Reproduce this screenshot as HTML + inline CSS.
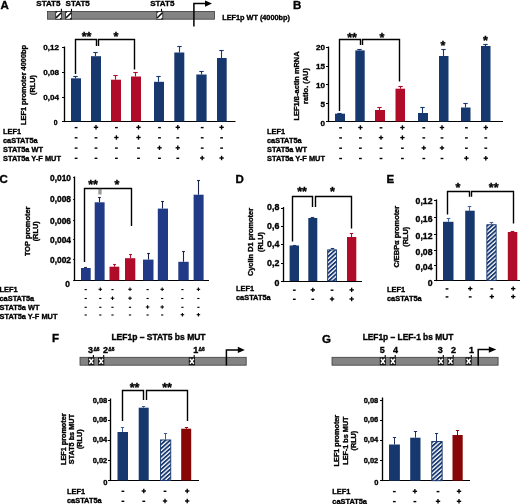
<!DOCTYPE html>
<html><head><meta charset="utf-8"><title>Figure</title>
<style>
html,body{margin:0;padding:0;background:#fff;}
svg{display:block;font-family:"Liberation Sans",sans-serif;font-weight:bold;opacity:0.999;}
text{stroke:#000;stroke-width:0.35px;}
</style></head>
<body>
<svg width="520" height="504" viewBox="0 0 520 504">
<defs>
<filter id="soft" x="0" y="0" width="520" height="504" filterUnits="userSpaceOnUse" color-interpolation-filters="sRGB"><feGaussianBlur stdDeviation="0.35"/></filter>
<pattern id="hb" width="3.1" height="3.1" patternUnits="userSpaceOnUse" patternTransform="rotate(-42)">
<rect width="3.1" height="3.1" fill="#fff"/><rect width="3.1" height="1.8" fill="#17386f"/></pattern>
<pattern id="hk" width="2.4" height="2.4" patternUnits="userSpaceOnUse" patternTransform="rotate(-50)">
<rect width="2.4" height="2.4" fill="#fff"/><rect width="2.4" height="1.15" fill="#111"/></pattern>
</defs>
<rect width="520" height="504" fill="#fff"/>
<g filter="url(#soft)">
<text x="0.5" y="8.7" font-size="11.5" text-anchor="start" fill="#000">A</text>
<text x="36.3" y="6.4" font-size="8" text-anchor="start" fill="#000">STAT5</text>
<text x="65.6" y="6.4" font-size="8" text-anchor="start" fill="#000">STAT5</text>
<text x="150.2" y="6.4" font-size="8" text-anchor="start" fill="#000">STAT5</text>
<rect x="47.5" y="11.4" width="167" height="7.8" fill="#838383" stroke="#3c3c3c" stroke-width="0.8"/>
<rect x="55.7" y="11.4" width="5.8" height="7.8" fill="#fff" stroke="#222" stroke-width="0.8"/>
<line x1="56.0" y1="17.9" x2="61.2" y2="12.7" stroke="#111" stroke-width="1.5"/>
<line x1="56.0" y1="12.3" x2="56.9" y2="11.7" stroke="#111" stroke-width="1.4"/>
<line x1="60.3" y1="18.9" x2="61.2" y2="18.3" stroke="#111" stroke-width="1.4"/>
<rect x="65.6" y="11.4" width="6.0" height="7.8" fill="#fff" stroke="#222" stroke-width="0.8"/>
<line x1="65.9" y1="18.0" x2="71.3" y2="12.6" stroke="#111" stroke-width="1.5"/>
<line x1="65.9" y1="12.4" x2="66.9" y2="11.7" stroke="#111" stroke-width="1.4"/>
<line x1="70.3" y1="18.9" x2="71.3" y2="18.2" stroke="#111" stroke-width="1.4"/>
<rect x="156.8" y="11.4" width="6.0" height="7.8" fill="#fff" stroke="#222" stroke-width="0.8"/>
<line x1="157.1" y1="18.0" x2="162.5" y2="12.6" stroke="#111" stroke-width="1.5"/>
<line x1="157.1" y1="12.4" x2="158.1" y2="11.7" stroke="#111" stroke-width="1.4"/>
<line x1="161.5" y1="18.9" x2="162.5" y2="18.2" stroke="#111" stroke-width="1.4"/>
<line x1="61.4" y1="8.8" x2="61.4" y2="11.4" stroke="#000" stroke-width="1.1"/>
<line x1="71.5" y1="8.8" x2="71.5" y2="11.4" stroke="#000" stroke-width="1.1"/>
<line x1="161.5" y1="8.8" x2="161.5" y2="11.4" stroke="#000" stroke-width="1.1"/>
<path d="M193.9 26.5 V3.6 H205.5" stroke="#000" stroke-width="1.5" fill="none" stroke-linejoin="miter"/>
<path d="M205.0 0.5 L212.0 3.6 L205.0 6.7 Z" stroke="#000" stroke-width="0" fill="#000" stroke-linejoin="miter"/>
<text x="222.2" y="19.7" font-size="7.3" text-anchor="start" fill="#000">LEF1p WT (4000bp)</text>
<line x1="64.5" y1="46.5" x2="64.5" y2="122.1" stroke="#000" stroke-width="1.35"/>
<line x1="63.9" y1="121.5" x2="235.5" y2="121.5" stroke="#000" stroke-width="1.2"/>
<line x1="62.0" y1="47.5" x2="64.5" y2="47.5" stroke="#000" stroke-width="1"/>
<text x="59" y="50.42" font-size="8.1" text-anchor="end" fill="#000">0,12</text>
<line x1="62.0" y1="72.5" x2="64.5" y2="72.5" stroke="#000" stroke-width="1"/>
<text x="59" y="75.22" font-size="8.1" text-anchor="end" fill="#000">0,08</text>
<line x1="62.0" y1="97.5" x2="64.5" y2="97.5" stroke="#000" stroke-width="1"/>
<text x="59" y="100.12" font-size="8.1" text-anchor="end" fill="#000">0,04</text>
<line x1="62.0" y1="121.5" x2="64.5" y2="121.5" stroke="#000" stroke-width="1"/>
<text x="57.6" y="125.05" font-size="6.8" text-anchor="end" fill="#000">0</text>
<text x="25.96" y="85" font-size="7.4" text-anchor="middle" fill="#000" transform="rotate(-90 25.96 85)">LEF1 promoter 4000bp</text>
<text x="34.56" y="85" font-size="7.4" text-anchor="middle" fill="#000" transform="rotate(-90 34.56 85)">(RLU)</text>
<line x1="75.5" y1="76.5" x2="75.5" y2="78.3" stroke="#17386f" stroke-width="1.1"/>
<line x1="73.3" y1="76.5" x2="77.7" y2="76.5" stroke="#17386f" stroke-width="1.1"/>
<rect x="71" y="78.3" width="10" height="43.2" fill="#17386f"/>
<line x1="95.5" y1="52.5" x2="95.5" y2="56.2" stroke="#17386f" stroke-width="1.1"/>
<line x1="93.3" y1="52.5" x2="97.7" y2="52.5" stroke="#17386f" stroke-width="1.1"/>
<rect x="91" y="56.2" width="10" height="65.3" fill="#17386f"/>
<line x1="115.5" y1="75.5" x2="115.5" y2="79.7" stroke="#b00b29" stroke-width="1.1"/>
<line x1="113.3" y1="75.5" x2="117.7" y2="75.5" stroke="#b00b29" stroke-width="1.1"/>
<rect x="111" y="79.7" width="10" height="41.8" fill="#b00b29"/>
<line x1="135.5" y1="72.5" x2="135.5" y2="76.5" stroke="#b00b29" stroke-width="1.1"/>
<line x1="133.3" y1="72.5" x2="137.7" y2="72.5" stroke="#b00b29" stroke-width="1.1"/>
<rect x="131" y="76.5" width="10" height="45.0" fill="#b00b29"/>
<line x1="158.5" y1="76.5" x2="158.5" y2="81.8" stroke="#17386f" stroke-width="1.1"/>
<line x1="156.3" y1="76.5" x2="160.7" y2="76.5" stroke="#17386f" stroke-width="1.1"/>
<rect x="154" y="81.8" width="10" height="39.7" fill="#17386f"/>
<line x1="179.5" y1="46.5" x2="179.5" y2="52.5" stroke="#17386f" stroke-width="1.1"/>
<line x1="177.3" y1="46.5" x2="181.7" y2="46.5" stroke="#17386f" stroke-width="1.1"/>
<rect x="174.3" y="52.5" width="10.0" height="69.0" fill="#17386f"/>
<line x1="201.5" y1="71.5" x2="201.5" y2="74.5" stroke="#17386f" stroke-width="1.1"/>
<line x1="199.3" y1="71.5" x2="203.7" y2="71.5" stroke="#17386f" stroke-width="1.1"/>
<rect x="196.3" y="74.5" width="10.3" height="47.0" fill="#17386f"/>
<line x1="221.5" y1="50.5" x2="221.5" y2="58" stroke="#17386f" stroke-width="1.1"/>
<line x1="219.3" y1="50.5" x2="223.7" y2="50.5" stroke="#17386f" stroke-width="1.1"/>
<rect x="217" y="58" width="9.7" height="63.5" fill="#17386f"/>
<path d="M75.5 74 L75.5 39.5 L96.5 39.5 L96.5 46" stroke="#000" stroke-width="1.4" fill="none" stroke-linejoin="miter"/>
<path d="M98.5 46 L98.5 39.5 L134.5 39.5 L134.5 69.5" stroke="#000" stroke-width="1.4" fill="none" stroke-linejoin="miter"/>
<text x="86.5" y="40.81" font-size="12.5" text-anchor="middle" fill="#000">**</text>
<text x="116" y="40.81" font-size="12.5" text-anchor="middle" fill="#000">*</text>
<text x="3" y="133.66" font-size="7.4" text-anchor="start" fill="#000">LEF1</text>
<text x="3" y="142.66" font-size="7.4" text-anchor="start" fill="#000">caSTAT5a</text>
<text x="3" y="151.66" font-size="7.4" text-anchor="start" fill="#000">STAT5a WT</text>
<text x="3" y="160.66" font-size="7.4" text-anchor="start" fill="#000">STAT5a Y-F MUT</text>
<line x1="74.7" y1="127.6" x2="77.5" y2="127.6" stroke="#000" stroke-width="1.4"/>
<line x1="93.8" y1="127.3" x2="98.2" y2="127.3" stroke="#000" stroke-width="1.35"/>
<line x1="96" y1="125.1" x2="96" y2="129.5" stroke="#000" stroke-width="1.35"/>
<line x1="115.0" y1="127.6" x2="117.8" y2="127.6" stroke="#000" stroke-width="1.4"/>
<line x1="136.3" y1="127.3" x2="140.7" y2="127.3" stroke="#000" stroke-width="1.35"/>
<line x1="138.5" y1="125.1" x2="138.5" y2="129.5" stroke="#000" stroke-width="1.35"/>
<line x1="158.1" y1="127.6" x2="160.9" y2="127.6" stroke="#000" stroke-width="1.4"/>
<line x1="175.6" y1="127.3" x2="180.0" y2="127.3" stroke="#000" stroke-width="1.35"/>
<line x1="177.8" y1="125.1" x2="177.8" y2="129.5" stroke="#000" stroke-width="1.35"/>
<line x1="200.8" y1="127.6" x2="203.6" y2="127.6" stroke="#000" stroke-width="1.4"/>
<line x1="219.4" y1="127.3" x2="223.8" y2="127.3" stroke="#000" stroke-width="1.35"/>
<line x1="221.6" y1="125.1" x2="221.6" y2="129.5" stroke="#000" stroke-width="1.35"/>
<line x1="74.7" y1="137.8" x2="77.5" y2="137.8" stroke="#000" stroke-width="1.4"/>
<line x1="94.6" y1="137.8" x2="97.4" y2="137.8" stroke="#000" stroke-width="1.4"/>
<line x1="114.2" y1="137.5" x2="118.6" y2="137.5" stroke="#000" stroke-width="1.35"/>
<line x1="116.4" y1="135.3" x2="116.4" y2="139.7" stroke="#000" stroke-width="1.35"/>
<line x1="136.3" y1="137.5" x2="140.7" y2="137.5" stroke="#000" stroke-width="1.35"/>
<line x1="138.5" y1="135.3" x2="138.5" y2="139.7" stroke="#000" stroke-width="1.35"/>
<line x1="158.1" y1="137.8" x2="160.9" y2="137.8" stroke="#000" stroke-width="1.4"/>
<line x1="176.4" y1="137.8" x2="179.2" y2="137.8" stroke="#000" stroke-width="1.4"/>
<line x1="200.8" y1="137.8" x2="203.6" y2="137.8" stroke="#000" stroke-width="1.4"/>
<line x1="220.2" y1="137.8" x2="223.0" y2="137.8" stroke="#000" stroke-width="1.4"/>
<line x1="74.7" y1="148.1" x2="77.5" y2="148.1" stroke="#000" stroke-width="1.4"/>
<line x1="94.6" y1="148.1" x2="97.4" y2="148.1" stroke="#000" stroke-width="1.4"/>
<line x1="115.0" y1="148.1" x2="117.8" y2="148.1" stroke="#000" stroke-width="1.4"/>
<line x1="137.1" y1="148.1" x2="139.9" y2="148.1" stroke="#000" stroke-width="1.4"/>
<line x1="157.3" y1="147.8" x2="161.7" y2="147.8" stroke="#000" stroke-width="1.35"/>
<line x1="159.5" y1="145.6" x2="159.5" y2="150.0" stroke="#000" stroke-width="1.35"/>
<line x1="175.6" y1="147.8" x2="180.0" y2="147.8" stroke="#000" stroke-width="1.35"/>
<line x1="177.8" y1="145.6" x2="177.8" y2="150.0" stroke="#000" stroke-width="1.35"/>
<line x1="200.8" y1="148.1" x2="203.6" y2="148.1" stroke="#000" stroke-width="1.4"/>
<line x1="220.2" y1="148.1" x2="223.0" y2="148.1" stroke="#000" stroke-width="1.4"/>
<line x1="74.7" y1="158.3" x2="77.5" y2="158.3" stroke="#000" stroke-width="1.4"/>
<line x1="94.6" y1="158.3" x2="97.4" y2="158.3" stroke="#000" stroke-width="1.4"/>
<line x1="115.0" y1="158.3" x2="117.8" y2="158.3" stroke="#000" stroke-width="1.4"/>
<line x1="137.1" y1="158.3" x2="139.9" y2="158.3" stroke="#000" stroke-width="1.4"/>
<line x1="158.1" y1="158.3" x2="160.9" y2="158.3" stroke="#000" stroke-width="1.4"/>
<line x1="176.4" y1="158.3" x2="179.2" y2="158.3" stroke="#000" stroke-width="1.4"/>
<line x1="200.0" y1="158" x2="204.4" y2="158" stroke="#000" stroke-width="1.35"/>
<line x1="202.2" y1="155.8" x2="202.2" y2="160.2" stroke="#000" stroke-width="1.35"/>
<line x1="219.4" y1="158" x2="223.8" y2="158" stroke="#000" stroke-width="1.35"/>
<line x1="221.6" y1="155.8" x2="221.6" y2="160.2" stroke="#000" stroke-width="1.35"/>
<text x="293" y="8.5" font-size="11.5" text-anchor="start" fill="#000">B</text>
<line x1="328.5" y1="46.5" x2="328.5" y2="122.1" stroke="#000" stroke-width="1.35"/>
<line x1="327.9" y1="121.5" x2="503" y2="121.5" stroke="#000" stroke-width="1.2"/>
<line x1="326.0" y1="47.5" x2="328.5" y2="47.5" stroke="#000" stroke-width="1"/>
<text x="325" y="50.42" font-size="8.1" text-anchor="end" fill="#000">20</text>
<line x1="326.0" y1="66.5" x2="328.5" y2="66.5" stroke="#000" stroke-width="1"/>
<text x="325" y="69.02" font-size="8.1" text-anchor="end" fill="#000">15</text>
<line x1="326.0" y1="84.5" x2="328.5" y2="84.5" stroke="#000" stroke-width="1"/>
<text x="325" y="87.62" font-size="8.1" text-anchor="end" fill="#000">10</text>
<line x1="326.0" y1="103.5" x2="328.5" y2="103.5" stroke="#000" stroke-width="1"/>
<text x="325" y="106.52" font-size="8.1" text-anchor="end" fill="#000">5</text>
<line x1="326.0" y1="121.5" x2="328.5" y2="121.5" stroke="#000" stroke-width="1"/>
<text x="325" y="125.52" font-size="8.1" text-anchor="end" fill="#000">0</text>
<text x="298.66" y="86" font-size="7.4" text-anchor="middle" fill="#000" transform="rotate(-90 298.66 86)">LEF1/ß-actin mRNA</text>
<text x="307.66" y="86" font-size="7.4" text-anchor="middle" fill="#000" transform="rotate(-90 307.66 86)">ratio. (AU)</text>
<line x1="339.5" y1="113.5" x2="339.5" y2="113.7" stroke="#17386f" stroke-width="1.1"/>
<line x1="337.3" y1="113.5" x2="341.7" y2="113.5" stroke="#17386f" stroke-width="1.1"/>
<rect x="335" y="113.7" width="10" height="7.8" fill="#17386f"/>
<line x1="359.5" y1="49.5" x2="359.5" y2="50.4" stroke="#17386f" stroke-width="1.1"/>
<line x1="357.3" y1="49.5" x2="361.7" y2="49.5" stroke="#17386f" stroke-width="1.1"/>
<rect x="355.3" y="50.4" width="9.4" height="71.1" fill="#17386f"/>
<line x1="379.5" y1="107.5" x2="379.5" y2="110" stroke="#b00b29" stroke-width="1.1"/>
<line x1="377.3" y1="107.5" x2="381.7" y2="107.5" stroke="#b00b29" stroke-width="1.1"/>
<rect x="375" y="110" width="10" height="11.5" fill="#b00b29"/>
<line x1="400.5" y1="86.5" x2="400.5" y2="88.7" stroke="#b00b29" stroke-width="1.1"/>
<line x1="398.3" y1="86.5" x2="402.7" y2="86.5" stroke="#b00b29" stroke-width="1.1"/>
<rect x="395.5" y="88.7" width="9.5" height="32.8" fill="#b00b29"/>
<line x1="422.5" y1="107.5" x2="422.5" y2="113" stroke="#17386f" stroke-width="1.1"/>
<line x1="420.3" y1="107.5" x2="424.7" y2="107.5" stroke="#17386f" stroke-width="1.1"/>
<rect x="418" y="113" width="10" height="8.5" fill="#17386f"/>
<line x1="443.5" y1="49.5" x2="443.5" y2="56" stroke="#17386f" stroke-width="1.1"/>
<line x1="441.3" y1="49.5" x2="445.7" y2="49.5" stroke="#17386f" stroke-width="1.1"/>
<rect x="439" y="56" width="9.5" height="65.5" fill="#17386f"/>
<line x1="465.5" y1="103.5" x2="465.5" y2="107.5" stroke="#17386f" stroke-width="1.1"/>
<line x1="463.3" y1="103.5" x2="467.7" y2="103.5" stroke="#17386f" stroke-width="1.1"/>
<rect x="461" y="107.5" width="9.5" height="14.0" fill="#17386f"/>
<line x1="485.5" y1="44.5" x2="485.5" y2="46" stroke="#17386f" stroke-width="1.1"/>
<line x1="483.3" y1="44.5" x2="487.7" y2="44.5" stroke="#17386f" stroke-width="1.1"/>
<rect x="481" y="46" width="9.5" height="75.5" fill="#17386f"/>
<path d="M339.5 111 L339.5 39.5 L360.5 39.5 L360.5 45" stroke="#000" stroke-width="1.4" fill="none" stroke-linejoin="miter"/>
<path d="M362.5 45 L362.5 39.5 L399.5 39.5 L399.5 81.5" stroke="#000" stroke-width="1.4" fill="none" stroke-linejoin="miter"/>
<text x="352" y="41.81" font-size="12.5" text-anchor="middle" fill="#000">**</text>
<text x="382" y="41.81" font-size="12.5" text-anchor="middle" fill="#000">*</text>
<text x="443" y="50.31" font-size="12.5" text-anchor="middle" fill="#000">*</text>
<text x="485.5" y="44.81" font-size="12.5" text-anchor="middle" fill="#000">*</text>
<text x="267" y="133.66" font-size="7.4" text-anchor="start" fill="#000">LEF1</text>
<text x="267" y="142.66" font-size="7.4" text-anchor="start" fill="#000">caSTAT5a</text>
<text x="267" y="151.66" font-size="7.4" text-anchor="start" fill="#000">STAT5a WT</text>
<text x="267" y="160.66" font-size="7.4" text-anchor="start" fill="#000">STAT5a Y-F MUT</text>
<line x1="339.2" y1="127.8" x2="342.0" y2="127.8" stroke="#000" stroke-width="1.4"/>
<line x1="358.2" y1="127.5" x2="362.6" y2="127.5" stroke="#000" stroke-width="1.35"/>
<line x1="360.4" y1="125.3" x2="360.4" y2="129.7" stroke="#000" stroke-width="1.35"/>
<line x1="379.6" y1="127.8" x2="382.4" y2="127.8" stroke="#000" stroke-width="1.4"/>
<line x1="400.2" y1="127.5" x2="404.6" y2="127.5" stroke="#000" stroke-width="1.35"/>
<line x1="402.4" y1="125.3" x2="402.4" y2="129.7" stroke="#000" stroke-width="1.35"/>
<line x1="422.4" y1="127.8" x2="425.2" y2="127.8" stroke="#000" stroke-width="1.4"/>
<line x1="439.8" y1="127.5" x2="444.2" y2="127.5" stroke="#000" stroke-width="1.35"/>
<line x1="442" y1="125.3" x2="442" y2="129.7" stroke="#000" stroke-width="1.35"/>
<line x1="465.0" y1="127.8" x2="467.8" y2="127.8" stroke="#000" stroke-width="1.4"/>
<line x1="483.6" y1="127.5" x2="488.0" y2="127.5" stroke="#000" stroke-width="1.35"/>
<line x1="485.8" y1="125.3" x2="485.8" y2="129.7" stroke="#000" stroke-width="1.35"/>
<line x1="339.2" y1="137.9" x2="342.0" y2="137.9" stroke="#000" stroke-width="1.4"/>
<line x1="359.0" y1="137.9" x2="361.8" y2="137.9" stroke="#000" stroke-width="1.4"/>
<line x1="378.8" y1="137.6" x2="383.2" y2="137.6" stroke="#000" stroke-width="1.35"/>
<line x1="381" y1="135.4" x2="381" y2="139.8" stroke="#000" stroke-width="1.35"/>
<line x1="400.2" y1="137.6" x2="404.6" y2="137.6" stroke="#000" stroke-width="1.35"/>
<line x1="402.4" y1="135.4" x2="402.4" y2="139.8" stroke="#000" stroke-width="1.35"/>
<line x1="422.4" y1="137.9" x2="425.2" y2="137.9" stroke="#000" stroke-width="1.4"/>
<line x1="440.6" y1="137.9" x2="443.4" y2="137.9" stroke="#000" stroke-width="1.4"/>
<line x1="465.0" y1="137.9" x2="467.8" y2="137.9" stroke="#000" stroke-width="1.4"/>
<line x1="484.4" y1="137.9" x2="487.2" y2="137.9" stroke="#000" stroke-width="1.4"/>
<line x1="339.2" y1="148.2" x2="342.0" y2="148.2" stroke="#000" stroke-width="1.4"/>
<line x1="359.0" y1="148.2" x2="361.8" y2="148.2" stroke="#000" stroke-width="1.4"/>
<line x1="379.6" y1="148.2" x2="382.4" y2="148.2" stroke="#000" stroke-width="1.4"/>
<line x1="401.0" y1="148.2" x2="403.8" y2="148.2" stroke="#000" stroke-width="1.4"/>
<line x1="421.6" y1="147.9" x2="426.0" y2="147.9" stroke="#000" stroke-width="1.35"/>
<line x1="423.8" y1="145.7" x2="423.8" y2="150.1" stroke="#000" stroke-width="1.35"/>
<line x1="439.8" y1="147.9" x2="444.2" y2="147.9" stroke="#000" stroke-width="1.35"/>
<line x1="442" y1="145.7" x2="442" y2="150.1" stroke="#000" stroke-width="1.35"/>
<line x1="465.0" y1="148.2" x2="467.8" y2="148.2" stroke="#000" stroke-width="1.4"/>
<line x1="484.4" y1="148.2" x2="487.2" y2="148.2" stroke="#000" stroke-width="1.4"/>
<line x1="339.2" y1="158.5" x2="342.0" y2="158.5" stroke="#000" stroke-width="1.4"/>
<line x1="359.0" y1="158.5" x2="361.8" y2="158.5" stroke="#000" stroke-width="1.4"/>
<line x1="379.6" y1="158.5" x2="382.4" y2="158.5" stroke="#000" stroke-width="1.4"/>
<line x1="401.0" y1="158.5" x2="403.8" y2="158.5" stroke="#000" stroke-width="1.4"/>
<line x1="422.4" y1="158.5" x2="425.2" y2="158.5" stroke="#000" stroke-width="1.4"/>
<line x1="440.6" y1="158.5" x2="443.4" y2="158.5" stroke="#000" stroke-width="1.4"/>
<line x1="464.2" y1="158.2" x2="468.6" y2="158.2" stroke="#000" stroke-width="1.35"/>
<line x1="466.4" y1="156.0" x2="466.4" y2="160.4" stroke="#000" stroke-width="1.35"/>
<line x1="483.6" y1="158.2" x2="488.0" y2="158.2" stroke="#000" stroke-width="1.35"/>
<line x1="485.8" y1="156.0" x2="485.8" y2="160.4" stroke="#000" stroke-width="1.35"/>
<text x="-0.5" y="182.7" font-size="11.5" text-anchor="start" fill="#000">C</text>
<line x1="74.5" y1="176.5" x2="74.5" y2="281.1" stroke="#000" stroke-width="1.35"/>
<line x1="73.9" y1="280.5" x2="209" y2="280.5" stroke="#000" stroke-width="1.2"/>
<line x1="73.2" y1="177.5" x2="74.5" y2="177.5" stroke="#000" stroke-width="1"/>
<text x="71" y="180.72" font-size="8.4" text-anchor="end" fill="#000">0,010</text>
<line x1="73.2" y1="199.5" x2="74.5" y2="199.5" stroke="#000" stroke-width="1"/>
<text x="71" y="202.22" font-size="8.4" text-anchor="end" fill="#000">0,008</text>
<line x1="73.2" y1="220.5" x2="74.5" y2="220.5" stroke="#000" stroke-width="1"/>
<text x="71" y="223.72" font-size="8.4" text-anchor="end" fill="#000">0,006</text>
<line x1="73.2" y1="239.5" x2="74.5" y2="239.5" stroke="#000" stroke-width="1"/>
<text x="71" y="242.92" font-size="8.4" text-anchor="end" fill="#000">0,004</text>
<line x1="73.2" y1="259.5" x2="74.5" y2="259.5" stroke="#000" stroke-width="1"/>
<text x="71" y="262.82" font-size="8.4" text-anchor="end" fill="#000">0,002</text>
<line x1="73.2" y1="280.5" x2="74.5" y2="280.5" stroke="#000" stroke-width="1"/>
<text x="69.8" y="287.02" font-size="8.4" text-anchor="end" fill="#000">0</text>
<text x="29.96" y="231.3" font-size="7.4" text-anchor="middle" fill="#000" transform="rotate(-90 29.96 231.3)">TOP promoter</text>
<text x="37.96" y="231.3" font-size="7.4" text-anchor="middle" fill="#000" transform="rotate(-90 37.96 231.3)">(RLU)</text>
<line x1="85.5" y1="267.5" x2="85.5" y2="268" stroke="#1a2246" stroke-width="1.1"/>
<line x1="84.1" y1="267.5" x2="86.9" y2="267.5" stroke="#1a2246" stroke-width="1.1"/>
<rect x="81" y="268" width="9.7" height="12.4" fill="#203a87"/>
<line x1="99.5" y1="197.5" x2="99.5" y2="202.3" stroke="#1a2246" stroke-width="1.1"/>
<line x1="98.1" y1="197.5" x2="100.9" y2="197.5" stroke="#1a2246" stroke-width="1.1"/>
<rect x="94.7" y="202.3" width="9.9" height="78.1" fill="#203a87"/>
<line x1="114.5" y1="264.5" x2="114.5" y2="266.7" stroke="#b00b29" stroke-width="1.1"/>
<line x1="113.1" y1="264.5" x2="115.9" y2="264.5" stroke="#b00b29" stroke-width="1.1"/>
<rect x="109.5" y="266.7" width="9.8" height="13.7" fill="#b00b29"/>
<line x1="130.5" y1="254.5" x2="130.5" y2="258.2" stroke="#b00b29" stroke-width="1.1"/>
<line x1="129.1" y1="254.5" x2="131.9" y2="254.5" stroke="#b00b29" stroke-width="1.1"/>
<rect x="125" y="258.2" width="10.3" height="22.2" fill="#b00b29"/>
<line x1="148.5" y1="253.5" x2="148.5" y2="259.6" stroke="#1a2246" stroke-width="1.1"/>
<line x1="147.1" y1="253.5" x2="149.9" y2="253.5" stroke="#1a2246" stroke-width="1.1"/>
<rect x="143" y="259.6" width="10.5" height="20.8" fill="#203a87"/>
<line x1="162.5" y1="201.5" x2="162.5" y2="208.6" stroke="#1a2246" stroke-width="1.1"/>
<line x1="161.1" y1="201.5" x2="163.9" y2="201.5" stroke="#1a2246" stroke-width="1.1"/>
<rect x="157.8" y="208.6" width="10.2" height="71.8" fill="#203a87"/>
<line x1="183.5" y1="251.5" x2="183.5" y2="261.8" stroke="#1a2246" stroke-width="1.1"/>
<line x1="182.1" y1="251.5" x2="184.9" y2="251.5" stroke="#1a2246" stroke-width="1.1"/>
<rect x="178.3" y="261.8" width="10.4" height="18.6" fill="#203a87"/>
<line x1="198.5" y1="180.5" x2="198.5" y2="194.7" stroke="#1a2246" stroke-width="1.1"/>
<line x1="197.1" y1="180.5" x2="199.9" y2="180.5" stroke="#1a2246" stroke-width="1.1"/>
<rect x="193.6" y="194.7" width="10.0" height="85.7" fill="#203a87"/>
<path d="M84.5 262 L84.5 188.5 L131.5 188.5 L131.5 226" stroke="#000" stroke-width="1.4" fill="none" stroke-linejoin="miter"/>
<line x1="99.1" y1="188.5" x2="99.1" y2="194.5" stroke="#444" stroke-width="0.9"/>
<line x1="100.9" y1="188.5" x2="100.9" y2="194.5" stroke="#444" stroke-width="0.9"/>
<text x="93" y="188.81" font-size="12.5" text-anchor="middle" fill="#000">**</text>
<text x="117" y="188.81" font-size="12.5" text-anchor="middle" fill="#000">*</text>
<text x="-0.5" y="292.36" font-size="7.4" text-anchor="start" fill="#000">LEF1</text>
<text x="-0.5" y="301.36" font-size="7.4" text-anchor="start" fill="#000">caSTAT5a</text>
<text x="-0.5" y="310.46" font-size="7.4" text-anchor="start" fill="#000">STAT5a WT</text>
<text x="-0.5" y="319.06" font-size="7.4" text-anchor="start" fill="#000">STAT5a Y-F MUT</text>
<line x1="84.58" y1="289.6" x2="86.82" y2="289.6" stroke="#000" stroke-width="1.12"/>
<line x1="98.54" y1="289.3" x2="102.06" y2="289.3" stroke="#000" stroke-width="1.08"/>
<line x1="100.3" y1="287.54" x2="100.3" y2="291.06" stroke="#000" stroke-width="1.08"/>
<line x1="111.38" y1="289.6" x2="113.62" y2="289.6" stroke="#000" stroke-width="1.12"/>
<line x1="128.24" y1="289.3" x2="131.76" y2="289.3" stroke="#000" stroke-width="1.08"/>
<line x1="130" y1="287.54" x2="130" y2="291.06" stroke="#000" stroke-width="1.08"/>
<line x1="146.48" y1="289.6" x2="148.72" y2="289.6" stroke="#000" stroke-width="1.12"/>
<line x1="160.44" y1="289.3" x2="163.96" y2="289.3" stroke="#000" stroke-width="1.08"/>
<line x1="162.2" y1="287.54" x2="162.2" y2="291.06" stroke="#000" stroke-width="1.08"/>
<line x1="181.28" y1="289.6" x2="183.52" y2="289.6" stroke="#000" stroke-width="1.12"/>
<line x1="196.64" y1="289.3" x2="200.16" y2="289.3" stroke="#000" stroke-width="1.08"/>
<line x1="198.4" y1="287.54" x2="198.4" y2="291.06" stroke="#000" stroke-width="1.08"/>
<line x1="84.58" y1="298.5" x2="86.82" y2="298.5" stroke="#000" stroke-width="1.12"/>
<line x1="99.18" y1="298.5" x2="101.42" y2="298.5" stroke="#000" stroke-width="1.12"/>
<line x1="110.74" y1="298.2" x2="114.26" y2="298.2" stroke="#000" stroke-width="1.08"/>
<line x1="112.5" y1="296.44" x2="112.5" y2="299.96" stroke="#000" stroke-width="1.08"/>
<line x1="128.24" y1="298.2" x2="131.76" y2="298.2" stroke="#000" stroke-width="1.08"/>
<line x1="130" y1="296.44" x2="130" y2="299.96" stroke="#000" stroke-width="1.08"/>
<line x1="146.48" y1="298.5" x2="148.72" y2="298.5" stroke="#000" stroke-width="1.12"/>
<line x1="161.08" y1="298.5" x2="163.32" y2="298.5" stroke="#000" stroke-width="1.12"/>
<line x1="181.28" y1="298.5" x2="183.52" y2="298.5" stroke="#000" stroke-width="1.12"/>
<line x1="197.28" y1="298.5" x2="199.52" y2="298.5" stroke="#000" stroke-width="1.12"/>
<line x1="84.58" y1="307.3" x2="86.82" y2="307.3" stroke="#000" stroke-width="1.12"/>
<line x1="99.18" y1="307.3" x2="101.42" y2="307.3" stroke="#000" stroke-width="1.12"/>
<line x1="111.38" y1="307.3" x2="113.62" y2="307.3" stroke="#000" stroke-width="1.12"/>
<line x1="128.88" y1="307.3" x2="131.12" y2="307.3" stroke="#000" stroke-width="1.12"/>
<line x1="145.84" y1="307" x2="149.36" y2="307" stroke="#000" stroke-width="1.08"/>
<line x1="147.6" y1="305.24" x2="147.6" y2="308.76" stroke="#000" stroke-width="1.08"/>
<line x1="160.44" y1="307" x2="163.96" y2="307" stroke="#000" stroke-width="1.08"/>
<line x1="162.2" y1="305.24" x2="162.2" y2="308.76" stroke="#000" stroke-width="1.08"/>
<line x1="181.28" y1="307.3" x2="183.52" y2="307.3" stroke="#000" stroke-width="1.12"/>
<line x1="197.28" y1="307.3" x2="199.52" y2="307.3" stroke="#000" stroke-width="1.12"/>
<line x1="84.58" y1="315.0" x2="86.82" y2="315.0" stroke="#000" stroke-width="1.12"/>
<line x1="99.18" y1="315.0" x2="101.42" y2="315.0" stroke="#000" stroke-width="1.12"/>
<line x1="111.38" y1="315.0" x2="113.62" y2="315.0" stroke="#000" stroke-width="1.12"/>
<line x1="128.88" y1="315.0" x2="131.12" y2="315.0" stroke="#000" stroke-width="1.12"/>
<line x1="146.48" y1="315.0" x2="148.72" y2="315.0" stroke="#000" stroke-width="1.12"/>
<line x1="161.08" y1="315.0" x2="163.32" y2="315.0" stroke="#000" stroke-width="1.12"/>
<line x1="180.64" y1="314.7" x2="184.16" y2="314.7" stroke="#000" stroke-width="1.08"/>
<line x1="182.4" y1="312.94" x2="182.4" y2="316.46" stroke="#000" stroke-width="1.08"/>
<line x1="196.64" y1="314.7" x2="200.16" y2="314.7" stroke="#000" stroke-width="1.08"/>
<line x1="198.4" y1="312.94" x2="198.4" y2="316.46" stroke="#000" stroke-width="1.08"/>
<text x="235.5" y="182.5" font-size="11.5" text-anchor="start" fill="#000">D</text>
<line x1="283.5" y1="207" x2="283.5" y2="282.1" stroke="#000" stroke-width="1.35"/>
<line x1="282.9" y1="281.5" x2="362" y2="281.5" stroke="#000" stroke-width="1.2"/>
<line x1="281.0" y1="208.5" x2="283.5" y2="208.5" stroke="#000" stroke-width="1"/>
<text x="279.3" y="210.17" font-size="8.8" text-anchor="end" fill="#000">0,8</text>
<line x1="281.0" y1="226.5" x2="283.5" y2="226.5" stroke="#000" stroke-width="1"/>
<text x="279.3" y="228.77" font-size="8.8" text-anchor="end" fill="#000">0,6</text>
<line x1="281.0" y1="244.5" x2="283.5" y2="244.5" stroke="#000" stroke-width="1"/>
<text x="279.3" y="246.67" font-size="8.8" text-anchor="end" fill="#000">0,4</text>
<line x1="281.0" y1="263.5" x2="283.5" y2="263.5" stroke="#000" stroke-width="1"/>
<text x="279.3" y="266.47" font-size="8.8" text-anchor="end" fill="#000">0,2</text>
<line x1="281.0" y1="281.5" x2="283.5" y2="281.5" stroke="#000" stroke-width="1"/>
<text x="279.3" y="286.37" font-size="8.8" text-anchor="end" fill="#000">0</text>
<text x="253.06" y="242" font-size="7.4" text-anchor="middle" fill="#000" transform="rotate(-90 253.06 242)">Cyclin D1 promoter</text>
<text x="262.86" y="242" font-size="7.4" text-anchor="middle" fill="#000" transform="rotate(-90 262.86 242)">(RLU)</text>
<line x1="294.5" y1="245.5" x2="294.5" y2="245.5" stroke="#17386f" stroke-width="1.1"/>
<line x1="292.8" y1="245.5" x2="296.2" y2="245.5" stroke="#17386f" stroke-width="1.1"/>
<rect x="289.6" y="245.5" width="9.4" height="35.5" fill="#17386f"/>
<line x1="312.5" y1="217.5" x2="312.5" y2="218" stroke="#17386f" stroke-width="1.1"/>
<line x1="310.8" y1="217.5" x2="314.2" y2="217.5" stroke="#17386f" stroke-width="1.1"/>
<rect x="308.3" y="218" width="9.0" height="63" fill="#17386f"/>
<line x1="332.5" y1="248.5" x2="332.5" y2="249.4" stroke="#17386f" stroke-width="1.1"/>
<line x1="330.8" y1="248.5" x2="334.2" y2="248.5" stroke="#17386f" stroke-width="1.1"/>
<rect x="327.65" y="249.85" width="8.8" height="31.15" fill="url(#hb)" stroke="#17386f" stroke-width="0.9"/>
<line x1="351.5" y1="233.5" x2="351.5" y2="237" stroke="#b00b29" stroke-width="1.1"/>
<line x1="349.8" y1="233.5" x2="353.2" y2="233.5" stroke="#b00b29" stroke-width="1.1"/>
<rect x="347" y="237" width="9.3" height="44" fill="#b00b29"/>
<path d="M292.5 241.5 L292.5 196.5 L312.5 196.5 L312.5 207" stroke="#000" stroke-width="1.4" fill="none" stroke-linejoin="miter"/>
<path d="M315.5 207 L315.5 196.5 L351.5 196.5 L351.5 228.5" stroke="#000" stroke-width="1.4" fill="none" stroke-linejoin="miter"/>
<text x="302" y="195.81" font-size="12.5" text-anchor="middle" fill="#000">**</text>
<text x="332.5" y="195.81" font-size="12.5" text-anchor="middle" fill="#000">*</text>
<text x="236" y="291.06" font-size="7.4" text-anchor="start" fill="#000">LEF1</text>
<text x="236" y="300.46" font-size="7.4" text-anchor="start" fill="#000">caSTAT5a</text>
<line x1="292.9" y1="290.2" x2="295.7" y2="290.2" stroke="#000" stroke-width="1.4"/>
<line x1="310.6" y1="289.9" x2="315.0" y2="289.9" stroke="#000" stroke-width="1.35"/>
<line x1="312.8" y1="287.7" x2="312.8" y2="292.1" stroke="#000" stroke-width="1.35"/>
<line x1="330.65" y1="290.2" x2="333.45" y2="290.2" stroke="#000" stroke-width="1.4"/>
<line x1="349.45" y1="289.9" x2="353.85" y2="289.9" stroke="#000" stroke-width="1.35"/>
<line x1="351.65" y1="287.7" x2="351.65" y2="292.1" stroke="#000" stroke-width="1.35"/>
<line x1="292.9" y1="299.3" x2="295.7" y2="299.3" stroke="#000" stroke-width="1.4"/>
<line x1="311.4" y1="299.3" x2="314.2" y2="299.3" stroke="#000" stroke-width="1.4"/>
<line x1="329.85" y1="299" x2="334.25" y2="299" stroke="#000" stroke-width="1.35"/>
<line x1="332.05" y1="296.8" x2="332.05" y2="301.2" stroke="#000" stroke-width="1.35"/>
<line x1="349.45" y1="299" x2="353.85" y2="299" stroke="#000" stroke-width="1.35"/>
<line x1="351.65" y1="296.8" x2="351.65" y2="301.2" stroke="#000" stroke-width="1.35"/>
<text x="386.5" y="182.5" font-size="11.5" text-anchor="start" fill="#000">E</text>
<line x1="436.5" y1="199.4" x2="436.5" y2="281.1" stroke="#000" stroke-width="1.35"/>
<line x1="435.9" y1="280.5" x2="520" y2="280.5" stroke="#000" stroke-width="1.2"/>
<line x1="434.0" y1="200.5" x2="436.5" y2="200.5" stroke="#000" stroke-width="1"/>
<text x="432.5" y="203.93" font-size="8.7" text-anchor="end" fill="#000">0,12</text>
<line x1="434.0" y1="217.5" x2="436.5" y2="217.5" stroke="#000" stroke-width="1"/>
<text x="432.5" y="222.13" font-size="8.7" text-anchor="end" fill="#000">0,16</text>
<line x1="434.0" y1="234.5" x2="436.5" y2="234.5" stroke="#000" stroke-width="1"/>
<text x="432.5" y="238.53" font-size="8.7" text-anchor="end" fill="#000">0,12</text>
<line x1="434.0" y1="250.5" x2="436.5" y2="250.5" stroke="#000" stroke-width="1"/>
<text x="432.5" y="255.13" font-size="8.7" text-anchor="end" fill="#000">0,08</text>
<line x1="434.0" y1="265.5" x2="436.5" y2="265.5" stroke="#000" stroke-width="1"/>
<text x="432.5" y="269.63" font-size="8.7" text-anchor="end" fill="#000">0,04</text>
<line x1="434.0" y1="280.5" x2="436.5" y2="280.5" stroke="#000" stroke-width="1"/>
<text x="432.5" y="285.73" font-size="8.7" text-anchor="end" fill="#000">0</text>
<text x="399.26" y="236.7" font-size="7.4" text-anchor="middle" fill="#000" transform="rotate(-90 399.26 236.7)">C/EBPα promoter</text>
<text x="408.06" y="236.7" font-size="7.4" text-anchor="middle" fill="#000" transform="rotate(-90 408.06 236.7)">(RLU)</text>
<line x1="448.5" y1="218.5" x2="448.5" y2="221.8" stroke="#44679f" stroke-width="1.1"/>
<line x1="446.7" y1="218.5" x2="450.3" y2="218.5" stroke="#44679f" stroke-width="1.1"/>
<rect x="443" y="221.8" width="10.5" height="58.6" fill="#17386f"/>
<line x1="469.5" y1="206.5" x2="469.5" y2="210.7" stroke="#44679f" stroke-width="1.1"/>
<line x1="467.7" y1="206.5" x2="471.3" y2="206.5" stroke="#44679f" stroke-width="1.1"/>
<rect x="465.2" y="210.7" width="9.5" height="69.7" fill="#17386f"/>
<line x1="491.5" y1="222.5" x2="491.5" y2="224.3" stroke="#44679f" stroke-width="1.1"/>
<line x1="489.7" y1="222.5" x2="493.3" y2="222.5" stroke="#44679f" stroke-width="1.1"/>
<rect x="486.85" y="224.75" width="9.3" height="55.65" fill="url(#hb)" stroke="#17386f" stroke-width="0.9"/>
<line x1="512.5" y1="231.5" x2="512.5" y2="232" stroke="#b00b29" stroke-width="1.1"/>
<line x1="510.7" y1="231.5" x2="514.3" y2="231.5" stroke="#b00b29" stroke-width="1.1"/>
<rect x="507.8" y="232" width="9.5" height="48.4" fill="#b00b29"/>
<path d="M447.5 214.5 L447.5 191.5 L469.5 191.5 L469.5 196.8" stroke="#000" stroke-width="1.4" fill="none" stroke-linejoin="miter"/>
<path d="M471.5 196.8 L471.5 191.5 L513.5 191.5 L513.5 223.5" stroke="#000" stroke-width="1.4" fill="none" stroke-linejoin="miter"/>
<text x="458" y="191.51" font-size="12.5" text-anchor="middle" fill="#000">*</text>
<text x="493.7" y="191.51" font-size="12.5" text-anchor="middle" fill="#000">**</text>
<text x="387" y="291.96" font-size="7.4" text-anchor="start" fill="#000">LEF1</text>
<text x="387" y="300.86" font-size="7.4" text-anchor="start" fill="#000">caSTAT5a</text>
<line x1="445.6" y1="288.9" x2="448.4" y2="288.9" stroke="#000" stroke-width="1.4"/>
<line x1="468.0" y1="288.6" x2="472.4" y2="288.6" stroke="#000" stroke-width="1.35"/>
<line x1="470.2" y1="286.4" x2="470.2" y2="290.8" stroke="#000" stroke-width="1.35"/>
<line x1="490.4" y1="288.9" x2="493.2" y2="288.9" stroke="#000" stroke-width="1.4"/>
<line x1="511.0" y1="288.6" x2="515.4" y2="288.6" stroke="#000" stroke-width="1.35"/>
<line x1="513.2" y1="286.4" x2="513.2" y2="290.8" stroke="#000" stroke-width="1.35"/>
<line x1="445.6" y1="296.9" x2="448.4" y2="296.9" stroke="#000" stroke-width="1.4"/>
<line x1="468.8" y1="296.9" x2="471.6" y2="296.9" stroke="#000" stroke-width="1.4"/>
<line x1="489.6" y1="296.6" x2="494.0" y2="296.6" stroke="#000" stroke-width="1.35"/>
<line x1="491.8" y1="294.4" x2="491.8" y2="298.8" stroke="#000" stroke-width="1.35"/>
<line x1="511.0" y1="296.6" x2="515.4" y2="296.6" stroke="#000" stroke-width="1.35"/>
<line x1="513.2" y1="294.4" x2="513.2" y2="298.8" stroke="#000" stroke-width="1.35"/>
<text x="52" y="341.5" font-size="11.5" text-anchor="start" fill="#000">F</text>
<text x="158.5" y="340.3" font-size="8.5" text-anchor="middle" fill="#000">LEF1p – STAT5 bs MUT</text>
<text x="88.1" y="353.3" font-size="9" text-anchor="start" fill="#000">3</text>
<text x="93.4" y="350.7" font-size="4.8" text-anchor="start" fill="#000">Δ8</text>
<text x="102.9" y="353.3" font-size="9" text-anchor="start" fill="#000">2</text>
<text x="108.2" y="350.7" font-size="4.8" text-anchor="start" fill="#000">Δ8</text>
<text x="193.2" y="353.3" font-size="9" text-anchor="start" fill="#000">1</text>
<text x="198.5" y="350.7" font-size="4.8" text-anchor="start" fill="#000">Δ8</text>
<rect x="80" y="357.3" width="166.2" height="7.9" fill="#838383" stroke="#3c3c3c" stroke-width="0.8"/>
<rect x="88.2" y="357.3" width="6.1" height="7.9" fill="#161616"/>
<line x1="89.35" y1="358.75" x2="93.15" y2="363.75" stroke="#fff" stroke-width="1.5"/>
<line x1="93.15" y1="358.75" x2="89.35" y2="363.75" stroke="#fff" stroke-width="1.5"/>
<rect x="98" y="357.3" width="6.3" height="7.9" fill="#161616"/>
<line x1="99.25" y1="358.75" x2="103.05" y2="363.75" stroke="#fff" stroke-width="1.5"/>
<line x1="103.05" y1="358.75" x2="99.25" y2="363.75" stroke="#fff" stroke-width="1.5"/>
<rect x="188.8" y="357.3" width="6.2" height="7.9" fill="#161616"/>
<line x1="190.0" y1="358.75" x2="193.8" y2="363.75" stroke="#fff" stroke-width="1.5"/>
<line x1="193.8" y1="358.75" x2="190.0" y2="363.75" stroke="#fff" stroke-width="1.5"/>
<line x1="93.4" y1="355" x2="93.4" y2="357.3" stroke="#000" stroke-width="1.1"/>
<line x1="103.7" y1="355" x2="103.7" y2="357.3" stroke="#000" stroke-width="1.1"/>
<line x1="194.2" y1="355" x2="194.2" y2="357.3" stroke="#000" stroke-width="1.1"/>
<path d="M226.4 365.5 V349.9 H238.3" stroke="#000" stroke-width="1.5" fill="none" stroke-linejoin="miter"/>
<path d="M237.8 346.79999999999995 L244.8 349.9 L237.8 353.0 Z" stroke="#000" stroke-width="0" fill="#000" stroke-linejoin="miter"/>
<line x1="110.5" y1="398.5" x2="110.5" y2="481.1" stroke="#000" stroke-width="1.35"/>
<line x1="109.9" y1="480.5" x2="199" y2="480.5" stroke="#000" stroke-width="1.2"/>
<line x1="108.0" y1="400.5" x2="110.5" y2="400.5" stroke="#000" stroke-width="1"/>
<text x="107.3" y="403.1" font-size="7.5" text-anchor="end" fill="#000">0,08</text>
<line x1="108.0" y1="420.5" x2="110.5" y2="420.5" stroke="#000" stroke-width="1"/>
<text x="107.3" y="421.5" font-size="7.5" text-anchor="end" fill="#000">0,06</text>
<line x1="108.0" y1="440.5" x2="110.5" y2="440.5" stroke="#000" stroke-width="1"/>
<text x="107.3" y="442.3" font-size="7.5" text-anchor="end" fill="#000">0,04</text>
<line x1="108.0" y1="460.5" x2="110.5" y2="460.5" stroke="#000" stroke-width="1"/>
<text x="107.3" y="463.0" font-size="7.5" text-anchor="end" fill="#000">0,02</text>
<line x1="108.0" y1="480.5" x2="110.5" y2="480.5" stroke="#000" stroke-width="1"/>
<text x="107.3" y="484.7" font-size="7.5" text-anchor="end" fill="#000">0</text>
<text x="65.81" y="439.2" font-size="7.25" text-anchor="middle" fill="#000" transform="rotate(-90 65.81 439.2)">LEF1 promoter</text>
<text x="74.01" y="439.2" font-size="7.25" text-anchor="middle" fill="#000" transform="rotate(-90 74.01 439.2)">STAT5 bs MUT</text>
<text x="81.81" y="439.2" font-size="7.25" text-anchor="middle" fill="#000" transform="rotate(-90 81.81 439.2)">(RLU)</text>
<line x1="122.5" y1="427.5" x2="122.5" y2="432" stroke="#3b5c94" stroke-width="1.0"/>
<line x1="120.9" y1="427.5" x2="124.1" y2="427.5" stroke="#3b5c94" stroke-width="1.0"/>
<rect x="117.5" y="432" width="10.5" height="48.4" fill="#17386f"/>
<line x1="143.5" y1="406.5" x2="143.5" y2="407.7" stroke="#3b5c94" stroke-width="1.0"/>
<line x1="141.9" y1="406.5" x2="145.1" y2="406.5" stroke="#3b5c94" stroke-width="1.0"/>
<rect x="138.7" y="407.7" width="10.0" height="72.7" fill="#17386f"/>
<line x1="165.5" y1="433.5" x2="165.5" y2="439.5" stroke="#3b5c94" stroke-width="1.0"/>
<line x1="163.9" y1="433.5" x2="167.1" y2="433.5" stroke="#3b5c94" stroke-width="1.0"/>
<rect x="160.45" y="439.95" width="10.3" height="40.45" fill="url(#hb)" stroke="#17386f" stroke-width="0.9"/>
<line x1="186.5" y1="427.5" x2="186.5" y2="428.7" stroke="#880606" stroke-width="1.0"/>
<line x1="184.9" y1="427.5" x2="188.1" y2="427.5" stroke="#880606" stroke-width="1.0"/>
<rect x="181.2" y="428.7" width="10.0" height="51.7" fill="#880606"/>
<path d="M122.5 421 L122.5 390.5 L143.5 390.5 L143.5 400" stroke="#000" stroke-width="1.4" fill="none" stroke-linejoin="miter"/>
<path d="M146.5 400 L146.5 390.5 L187.5 390.5 L187.5 421" stroke="#000" stroke-width="1.4" fill="none" stroke-linejoin="miter"/>
<text x="134.6" y="391.81" font-size="12.5" text-anchor="middle" fill="#000">**</text>
<text x="167" y="391.81" font-size="12.5" text-anchor="middle" fill="#000">**</text>
<text x="67" y="493.66" font-size="7.4" text-anchor="start" fill="#000">LEF1</text>
<text x="67" y="503.16" font-size="7.4" text-anchor="start" fill="#000">caSTAT5a</text>
<line x1="121.5" y1="491.3" x2="124.3" y2="491.3" stroke="#000" stroke-width="1.4"/>
<line x1="141.6" y1="491" x2="146.0" y2="491" stroke="#000" stroke-width="1.35"/>
<line x1="143.8" y1="488.8" x2="143.8" y2="493.2" stroke="#000" stroke-width="1.35"/>
<line x1="163.6" y1="491.3" x2="166.4" y2="491.3" stroke="#000" stroke-width="1.4"/>
<line x1="185.0" y1="491" x2="189.4" y2="491" stroke="#000" stroke-width="1.35"/>
<line x1="187.2" y1="488.8" x2="187.2" y2="493.2" stroke="#000" stroke-width="1.35"/>
<line x1="121.5" y1="501.3" x2="124.3" y2="501.3" stroke="#000" stroke-width="1.4"/>
<line x1="142.4" y1="501.3" x2="145.2" y2="501.3" stroke="#000" stroke-width="1.4"/>
<line x1="162.8" y1="501" x2="167.2" y2="501" stroke="#000" stroke-width="1.35"/>
<line x1="165" y1="498.8" x2="165" y2="503.2" stroke="#000" stroke-width="1.35"/>
<line x1="185.0" y1="501" x2="189.4" y2="501" stroke="#000" stroke-width="1.35"/>
<line x1="187.2" y1="498.8" x2="187.2" y2="503.2" stroke="#000" stroke-width="1.35"/>
<text x="322" y="343" font-size="11.5" text-anchor="start" fill="#000">G</text>
<text x="408" y="340" font-size="8.4" text-anchor="middle" fill="#000">LEF1p – LEF-1 bs MUT</text>
<text x="382.3" y="353.2" font-size="9" text-anchor="middle" fill="#000">5</text>
<text x="395.5" y="353.2" font-size="9" text-anchor="middle" fill="#000">4</text>
<text x="440.2" y="353.2" font-size="9" text-anchor="middle" fill="#000">3</text>
<text x="453.6" y="353.2" font-size="9" text-anchor="middle" fill="#000">2</text>
<text x="471.5" y="353.2" font-size="9" text-anchor="middle" fill="#000">1</text>
<rect x="332" y="357.3" width="166.1" height="7.9" fill="#838383" stroke="#3c3c3c" stroke-width="0.8"/>
<rect x="379.8" y="357.3" width="6.1" height="7.9" fill="#161616"/>
<line x1="380.95" y1="358.75" x2="384.75" y2="363.75" stroke="#fff" stroke-width="1.5"/>
<line x1="384.75" y1="358.75" x2="380.95" y2="363.75" stroke="#fff" stroke-width="1.5"/>
<rect x="389.8" y="357.3" width="6.1" height="7.9" fill="#161616"/>
<line x1="390.95" y1="358.75" x2="394.75" y2="363.75" stroke="#fff" stroke-width="1.5"/>
<line x1="394.75" y1="358.75" x2="390.95" y2="363.75" stroke="#fff" stroke-width="1.5"/>
<rect x="437.8" y="357.3" width="6.1" height="7.9" fill="#161616"/>
<line x1="438.95" y1="358.75" x2="442.75" y2="363.75" stroke="#fff" stroke-width="1.5"/>
<line x1="442.75" y1="358.75" x2="438.95" y2="363.75" stroke="#fff" stroke-width="1.5"/>
<rect x="447.4" y="357.3" width="6.2" height="7.9" fill="#161616"/>
<line x1="448.6" y1="358.75" x2="452.4" y2="363.75" stroke="#fff" stroke-width="1.5"/>
<line x1="452.4" y1="358.75" x2="448.6" y2="363.75" stroke="#fff" stroke-width="1.5"/>
<rect x="465.5" y="357.3" width="6.2" height="7.9" fill="#161616"/>
<line x1="466.7" y1="358.75" x2="470.5" y2="363.75" stroke="#fff" stroke-width="1.5"/>
<line x1="470.5" y1="358.75" x2="466.7" y2="363.75" stroke="#fff" stroke-width="1.5"/>
<line x1="385.2" y1="355" x2="385.2" y2="357.3" stroke="#000" stroke-width="1.1"/>
<line x1="395.2" y1="355" x2="395.2" y2="357.3" stroke="#000" stroke-width="1.1"/>
<line x1="443.3" y1="355" x2="443.3" y2="357.3" stroke="#000" stroke-width="1.1"/>
<line x1="453.2" y1="355" x2="453.2" y2="357.3" stroke="#000" stroke-width="1.1"/>
<line x1="471.3" y1="355" x2="471.3" y2="357.3" stroke="#000" stroke-width="1.1"/>
<path d="M478.2 365.5 V349.6 H489.3" stroke="#000" stroke-width="1.5" fill="none" stroke-linejoin="miter"/>
<path d="M488.8 346.5 L496.3 349.6 L488.8 352.70000000000005 Z" stroke="#000" stroke-width="0" fill="#000" stroke-linejoin="miter"/>
<line x1="382.5" y1="397.5" x2="382.5" y2="481.1" stroke="#000" stroke-width="1.35"/>
<line x1="381.9" y1="480.5" x2="470" y2="480.5" stroke="#000" stroke-width="1.2"/>
<line x1="380.0" y1="400.5" x2="382.5" y2="400.5" stroke="#000" stroke-width="1"/>
<text x="378.3" y="403.0" font-size="7.5" text-anchor="end" fill="#000">0,08</text>
<line x1="380.0" y1="420.5" x2="382.5" y2="420.5" stroke="#000" stroke-width="1"/>
<text x="378.3" y="422.1" font-size="7.5" text-anchor="end" fill="#000">0,06</text>
<line x1="380.0" y1="440.5" x2="382.5" y2="440.5" stroke="#000" stroke-width="1"/>
<text x="378.3" y="442.0" font-size="7.5" text-anchor="end" fill="#000">0,04</text>
<line x1="380.0" y1="460.5" x2="382.5" y2="460.5" stroke="#000" stroke-width="1"/>
<text x="378.3" y="462.6" font-size="7.5" text-anchor="end" fill="#000">0,02</text>
<line x1="380.0" y1="480.5" x2="382.5" y2="480.5" stroke="#000" stroke-width="1"/>
<text x="378.3" y="485.0" font-size="7.5" text-anchor="end" fill="#000">0</text>
<text x="338.71" y="440.6" font-size="7.25" text-anchor="middle" fill="#000" transform="rotate(-90 338.71 440.6)">LEF1 promoter</text>
<text x="347.71" y="440.6" font-size="7.25" text-anchor="middle" fill="#000" transform="rotate(-90 347.71 440.6)">LEF-1 bs MUT</text>
<text x="356.11" y="440.6" font-size="7.25" text-anchor="middle" fill="#000" transform="rotate(-90 356.11 440.6)">(RLU)</text>
<line x1="394.5" y1="437.5" x2="394.5" y2="444.5" stroke="#1f3360" stroke-width="1.0"/>
<line x1="392.9" y1="437.5" x2="396.1" y2="437.5" stroke="#1f3360" stroke-width="1.0"/>
<rect x="389" y="444.5" width="10.9" height="36.2" fill="#17386f"/>
<line x1="415.5" y1="431.5" x2="415.5" y2="437.7" stroke="#1f3360" stroke-width="1.0"/>
<line x1="413.9" y1="431.5" x2="417.1" y2="431.5" stroke="#1f3360" stroke-width="1.0"/>
<rect x="410.2" y="437.7" width="10.3" height="43.0" fill="#17386f"/>
<line x1="436.5" y1="433.5" x2="436.5" y2="441" stroke="#1f3360" stroke-width="1.0"/>
<line x1="434.9" y1="433.5" x2="438.1" y2="433.5" stroke="#1f3360" stroke-width="1.0"/>
<rect x="431.75" y="441.45" width="10.4" height="39.25" fill="url(#hb)" stroke="#17386f" stroke-width="0.9"/>
<line x1="457.5" y1="430.5" x2="457.5" y2="435" stroke="#880606" stroke-width="1.0"/>
<line x1="455.9" y1="430.5" x2="459.1" y2="430.5" stroke="#880606" stroke-width="1.0"/>
<rect x="452.5" y="435" width="10.2" height="45.7" fill="#880606"/>
<text x="332.3" y="493.96" font-size="7.4" text-anchor="start" fill="#000">LEF1</text>
<text x="332.3" y="503.66" font-size="7.4" text-anchor="start" fill="#000">caSTAT5a</text>
<line x1="392.9" y1="491.6" x2="395.7" y2="491.6" stroke="#000" stroke-width="1.4"/>
<line x1="412.7" y1="491.3" x2="417.1" y2="491.3" stroke="#000" stroke-width="1.35"/>
<line x1="414.9" y1="489.1" x2="414.9" y2="493.5" stroke="#000" stroke-width="1.35"/>
<line x1="436.6" y1="491.6" x2="439.4" y2="491.6" stroke="#000" stroke-width="1.4"/>
<line x1="456.8" y1="491.3" x2="461.2" y2="491.3" stroke="#000" stroke-width="1.35"/>
<line x1="459" y1="489.1" x2="459" y2="493.5" stroke="#000" stroke-width="1.35"/>
<line x1="392.9" y1="501.6" x2="395.7" y2="501.6" stroke="#000" stroke-width="1.4"/>
<line x1="413.5" y1="501.6" x2="416.3" y2="501.6" stroke="#000" stroke-width="1.4"/>
<line x1="435.8" y1="501.3" x2="440.2" y2="501.3" stroke="#000" stroke-width="1.35"/>
<line x1="438" y1="499.1" x2="438" y2="503.5" stroke="#000" stroke-width="1.35"/>
<line x1="456.8" y1="501.3" x2="461.2" y2="501.3" stroke="#000" stroke-width="1.35"/>
<line x1="459" y1="499.1" x2="459" y2="503.5" stroke="#000" stroke-width="1.35"/>
</g>
</svg>
</body></html>
